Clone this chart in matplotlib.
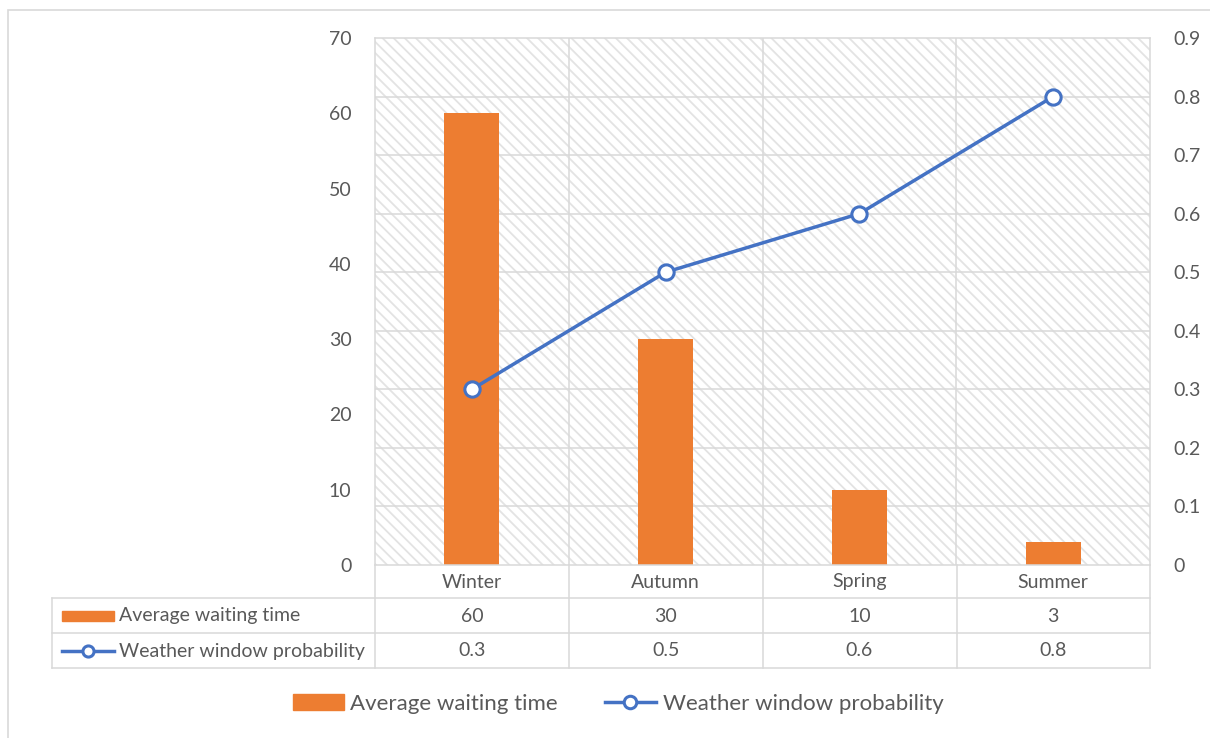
import numpy as np
import matplotlib.pyplot as plt
from matplotlib.patches import Rectangle
from matplotlib.lines import Line2D
from matplotlib.transforms import blended_transform_factory

plt.rcParams['font.family'] = ['Lato', 'DejaVu Sans']
plt.rcParams['hatch.linewidth'] = 1.3

# data
seasons = ['Winter', 'Autumn', 'Spring', 'Summer']
waiting = [60, 30, 10, 3]
prob = [0.3, 0.5, 0.6, 0.8]
left_ticks = [0, 10, 20, 30, 40, 50, 60, 70]
right_ticks = [0, 0.1, 0.2, 0.3, 0.4, 0.5, 0.6, 0.7, 0.8, 0.9]
bar_name = 'Average waiting time'
line_name = 'Weather window probability'

W, H = 1210, 738
ORANGE = '#ED7D31'
BLUE = '#4472C4'
GRID = '#d9d9d9'
TXT = '#595959'

def fx(px):
    return px / W

def fy(py):
    return 1 - py / H

fig = plt.figure(figsize=(W / 100, H / 100), dpi=100)

# outer chart border
fig.add_artist(Rectangle((fx(8), fy(760)), fx(1300), 750 / H, transform=fig.transFigure,
                         fill=False, edgecolor=GRID, linewidth=1.2))

ax = fig.add_axes([fx(375), fy(565), 775 / W, 527 / H])
ax2 = ax.twinx()

x = np.arange(len(seasons))
ax.set_xlim(-0.5, len(seasons) - 0.5)
ax.set_ylim(0, 70)
ax2.set_ylim(0, 0.9)

# hatched background
ax.add_patch(Rectangle((0, 0), 1, 1, transform=ax.transAxes, facecolor='white',
                       edgecolor='#e3e3e3', hatch='\\\\\\', linewidth=0, zorder=0))
ax.patch.set_visible(False)

# gridlines follow the right axis
tr = blended_transform_factory(ax.transAxes, ax2.transData)
for v in right_ticks[1:-1]:
    ax.plot([0, 1], [v, v], transform=tr, color=GRID, lw=1.1, zorder=1)
for xv in x[:-1] + 0.5:
    ax.axvline(xv, color=GRID, lw=1.1, zorder=1)

ax.bar(x, waiting, width=0.285, color=ORANGE, zorder=2)
ax2.plot(x, prob, color=BLUE, lw=2.5, marker='o', markersize=11,
         markerfacecolor='white', markeredgecolor=BLUE, markeredgewidth=2.2, zorder=3)

for a in (ax, ax2):
    for s in a.spines.values():
        s.set_visible(False)
for s in ('left', 'top', 'right', 'bottom'):
    ax.spines[s].set_visible(True)
    ax.spines[s].set_color(GRID)
    ax.spines[s].set_linewidth(1.1)

ax.set_xticks([])
ax.set_yticks(left_ticks)
ax.tick_params(axis='y', length=0, pad=17, labelsize=14, labelcolor=TXT)
ax2.set_yticks(right_ticks)
ax2.set_yticklabels([f'{v:g}' for v in right_ticks])
ax2.tick_params(axis='y', length=0, pad=17, labelsize=14, labelcolor=TXT)

# data table below the plot
ft = fig.transFigure
bt = blended_transform_factory(ax.transData, ft)
rows_y = [565, 598, 633, 668]
for py in rows_y[1:]:
    fig.add_artist(Line2D([fx(52), fx(1150)], [fy(py), fy(py)], transform=ft, color=GRID, lw=1.1))
for px in (375, 569, 763, 957, 1150):
    fig.add_artist(Line2D([fx(px), fx(px)], [fy(565), fy(668)], transform=ft, color=GRID, lw=1.1))
fig.add_artist(Line2D([fx(52), fx(52)], [fy(598), fy(668)], transform=ft, color=GRID, lw=1.1))

tsize = 14
for i, s in enumerate(seasons):
    fig.text(x[i], fy(582), s, transform=bt, ha='center', va='center', fontsize=tsize, color=TXT)
    fig.text(x[i], fy(616), f'{waiting[i]}', transform=bt, ha='center', va='center', fontsize=tsize, color=TXT)
    fig.text(x[i], fy(651), f'{prob[i]:g}', transform=bt, ha='center', va='center', fontsize=tsize, color=TXT)

fig.add_artist(Rectangle((fx(62), fy(621)), 52 / W, 10 / H, transform=ft, color=ORANGE))
fig.text(fx(119), fy(616), bar_name, ha='left', va='center', fontsize=tsize, color=TXT)
fig.add_artist(Line2D([fx(62), fx(114)], [fy(651), fy(651)], transform=ft, color=BLUE, lw=2.5))
fig.add_artist(Line2D([fx(88)], [fy(651)], transform=ft, marker='o', markersize=8,
                      markerfacecolor='white', markeredgecolor=BLUE, markeredgewidth=2.2))
fig.text(fx(119), fy(651), line_name, ha='left', va='center', fontsize=tsize, color=TXT)

# legend
handles = [Rectangle((0, 0), 1, 1, color=ORANGE),
           Line2D([], [], color=BLUE, lw=2.5, marker='o', markersize=9,
                  markerfacecolor='white', markeredgecolor=BLUE, markeredgewidth=2.2)]
fig.legend(handles, [bar_name, line_name], loc='center', bbox_to_anchor=(fx(618), fy(704)),
           ncol=2, frameon=False, fontsize=16, labelcolor=TXT, handlelength=2.3,
           handletextpad=0.3, columnspacing=2.1)

fig.savefig('out.png', dpi=100)
